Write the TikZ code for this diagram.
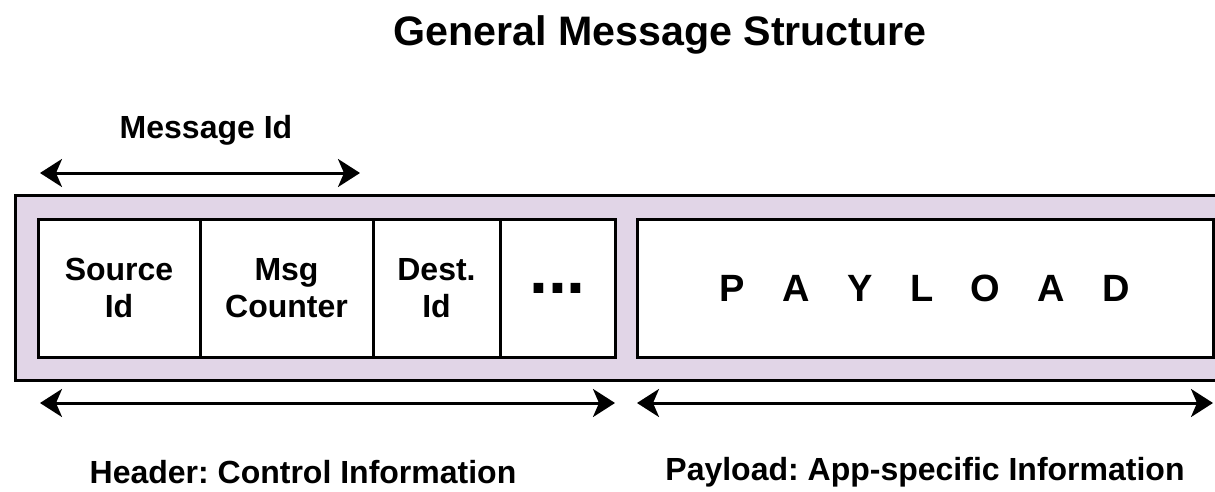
\documentclass[tikz,border=0pt]{standalone}
\usepackage{fontspec}
\setmainfont{Liberation Sans}
\usetikzlibrary{positioning}
\usetikzlibrary{arrows.meta}
\definecolor{lavender}{HTML}{E1D5E7}
\tikzstyle{frame} = [draw=black, line width=1.5pt, fill=lavender, minimum width=612.5pt, minimum height=92.5pt, inner sep=0pt]
\tikzstyle{cell} = [draw=black, line width=1.5pt, fill=white, minimum height=69pt, inner sep=0pt, align=center, font=\fontsize{16}{18.5}\selectfont\bfseries]
\tikzstyle{lbl} = [font=\fontsize{16}{18}\selectfont\bfseries, inner sep=0pt]
\tikzstyle{span} = [line width=1.5pt, {Stealth[length=11pt,width=14pt,inset=3pt]}-{Stealth[length=11pt,width=14pt,inset=3pt]}]
\def\gap{\hspace{18.7pt}}
\frenchspacing

\begin{document}
\begin{tikzpicture}[x=0.5pt,y=-0.5pt]
\useasboundingbox (0,0) rectangle (1215,492);
\node (title) at (660,35) {\fontsize{20.6}{24}\selectfont\bfseries General Message Structure};
\node (msgid) [lbl] at (206,130) {Message Id};
\node (outer) [frame] at (627.5,287.5) {};
\node (src) [cell, minimum width=81pt] at (119,288) {Source\\Id};
\node (cnt) [cell, minimum width=86.5pt] at (286.5,288) {Msg\\Counter};
\node (dst) [cell, minimum width=63.5pt] at (436.5,288) {Dest.\\Id};
\node (dots) [cell, minimum width=57.5pt, font=\fontsize{34}{34}\selectfont\bfseries, text height=5pt, text depth=0pt] at (557.5,288) {...};
\node (pay) [cell, minimum width=288pt, font=\fontsize{19}{22}\selectfont\bfseries] at (925,288) {P\gap A\gap Y\gap L\gap O\gap A\gap D};
\node (hdr) [lbl] at (303,472) {Header: Control Information};
\node (app) [lbl] at (925,472) {Payload: App-specific Information};
\coordinate (m1) at (40,173);
\coordinate (m2) at (360,173);
\coordinate (h1) at (40,403);
\coordinate (h2) at (615,403);
\coordinate (p1) at (637,403);
\coordinate (p2) at (1213,403);
\draw[span] (m1)--(m2);
\draw[span] (h1)--(h2);
\draw[span] (p1)--(p2);
\end{tikzpicture}
\end{document}
